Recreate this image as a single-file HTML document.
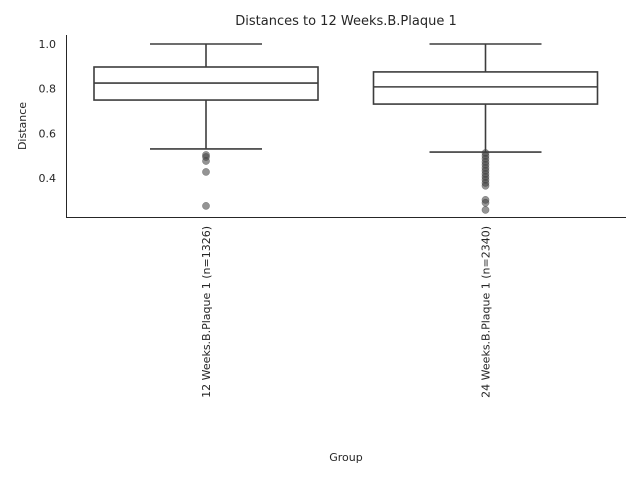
<!DOCTYPE html>
<html><head><meta charset="utf-8"><style>
body{margin:0;background:#fff;}
svg{display:block;font-family:"DejaVu Sans",sans-serif;}
</style></head><body>
<svg id="chart" width="640" height="480" viewBox="0 0 640 480">
<text x="346" y="25" font-size="13" text-anchor="middle" fill="#262626">Distances to 12 Weeks.B.Plaque 1</text>
<line x1="66.5" y1="35" x2="66.5" y2="217.5" stroke="#262626" stroke-width="1"/>
<line x1="66" y1="217.5" x2="626" y2="217.5" stroke="#262626" stroke-width="1"/>
<text transform="translate(26,126) rotate(-90)" font-size="11" text-anchor="middle" fill="#262626">Distance</text>
<text x="346" y="461" font-size="11" text-anchor="middle" fill="#262626">Group</text>
<g id="yticks"></g><g id="marks"></g><g id="xticks"></g>
</svg>
<script>
const categories = ["12 Weeks.B.Plaque 1 (n=1326)", "24 Weeks.B.Plaque 1 (n=2340)"];
const whiskerLow = [0.530, 0.516];
const q1 = [0.749, 0.731];
const median = [0.825, 0.808];
const q3 = [0.897, 0.875];
const whiskerHigh = [1.0, 1.0];
const outliers1 = [0.503, 0.494, 0.476, 0.427, 0.275];
const outliers2 = [0.512, 0.499, 0.486, 0.472, 0.459, 0.445, 0.432, 0.418, 0.405, 0.392, 0.378, 0.365, 0.302, 0.289, 0.257];
const outliers = [outliers1, outliers2];
const yTicks = [0.4, 0.6, 0.8, 1.0];
const yTickLabels = ["0.4", "0.6", "0.8", "1.0"];

const NS = "http://www.w3.org/2000/svg";
function y(v){ return 44 + (1 - v) * 223.3; }
function xc(i){ return 206 + i * 279.5; }
const boxHalf = 112, capHalf = 56;
function mk(tag, attrs, parent){ const e = document.createElementNS(NS, tag); for (const k in attrs) e.setAttribute(k, attrs[k]); parent.appendChild(e); return e; }

const yt = document.getElementById('yticks');
yTicks.forEach((v, i) => {
  const t = mk('text', {x: 56, y: y(v) + 4, 'font-size': 11, 'text-anchor': 'end', fill: '#262626'}, yt);
  
  
  t.textContent = yTickLabels[i];
});

const marks = document.getElementById('marks');
const st = {stroke: '#3d3d3d', 'stroke-width': 1.6, fill: 'none'};
categories.forEach((c, i) => {
  const x = xc(i);
  const g = mk('g', {}, marks);
  
  
  const w1 = mk('line', Object.assign({x1: x, x2: x, y1: y(q3[i]), y2: y(whiskerHigh[i])}, st), g);
  
  
  const w2 = mk('line', Object.assign({x1: x, x2: x, y1: y(q1[i]), y2: y(whiskerLow[i])}, st), g);
  
  
  const c1 = mk('line', Object.assign({x1: x - capHalf, x2: x + capHalf, y1: y(whiskerHigh[i]), y2: y(whiskerHigh[i])}, st), g);
  
  
  const c2 = mk('line', Object.assign({x1: x - capHalf, x2: x + capHalf, y1: y(whiskerLow[i]), y2: y(whiskerLow[i])}, st), g);
  
  
  const b = mk('rect', {x: x - boxHalf, y: y(q3[i]), width: boxHalf * 2, height: y(q1[i]) - y(q3[i]), fill: '#fff', stroke: '#3d3d3d', 'stroke-width': 1.6}, g);
  
  
  const m = mk('line', Object.assign({x1: x - boxHalf, x2: x + boxHalf, y1: y(median[i]), y2: y(median[i])}, st), g);
  
  
  outliers[i].forEach(v => {
    const p = mk('circle', {cx: x, cy: y(v), r: 3.6, fill: 'rgba(61,61,61,0.55)', stroke: 'rgba(61,61,61,0.55)', 'stroke-width': 0.5}, g);
    
    
  });
  const t = mk('text', {transform: 'translate(' + (x + 4) + ',226) rotate(-90)', 'font-size': 11, 'text-anchor': 'end', fill: '#262626'}, document.getElementById('xticks'));
  
  
  t.textContent = c;
});
</script>
</body></html>
